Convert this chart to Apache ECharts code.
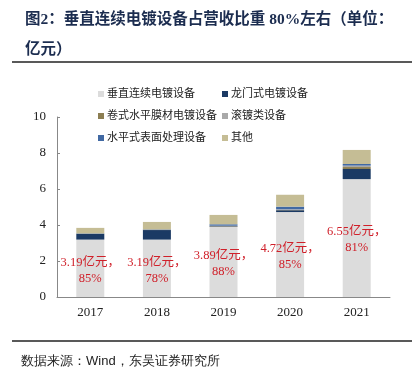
<!DOCTYPE html>
<html><head><meta charset="utf-8">
<script src="https://cdn.jsdelivr.net/npm/echarts@6/dist/echarts.min.js"></script>
<style>html,body{margin:0;padding:0;background:#fff;}#c{width:412px;height:379px;}</style>
</head><body><div id="c"></div>
<script>
const years = ['2017','2018','2019','2020','2021'];
const seriesNames = ['垂直连续电镀设备','龙门式电镀设备','卷式水平膜材电镀设备','滚镀类设备','水平式表面处理设备','其他'];
const vertical = [3.19, 3.19, 3.89, 4.72, 6.55];
const gantry   = [0.31, 0.53, 0.03, 0.10, 0.56];
const rollFilm = [0.02, 0.02, 0.02, 0.02, 0.11];
const barrel   = [0.00, 0.00, 0.02, 0.03, 0.08];
const horiz    = [0.02, 0.02, 0.08, 0.15, 0.09];
const others   = [0.30, 0.41, 0.52, 0.66, 0.78];
const sharePct = [85, 78, 88, 85, 81];
const yTicks = [0, 2, 4, 6, 8, 10];

const colors = ['#dcdcdc','#1b3a64','#8c7e52','#a9a9a9','#4169a3','#c5bd95'];
const serif = "'Liberation Serif','Times New Roman','Noto Sans CJK SC',serif";
const cjk = "'Liberation Serif','Noto Sans CJK SC',serif";

const allData = [vertical, gantry, rollFilm, barrel, horiz, others];
const chart = echarts.init(document.getElementById('c'));
const series = seriesNames.map((n, i) => ({
  name: n, type: 'bar', stack: 'a', barWidth: 28,
  data: allData[i],
  itemStyle: {color: colors[i]},
  label: i === 0 ? {
    show: true, position: 'inside', color: '#d0202a', fontSize: 12.5, lineHeight: 16,
    fontFamily: cjk, offset: [0, 2],
    formatter: p => p.value.toFixed(2) + '亿元，\n' + sharePct[p.dataIndex] + '%'
  } : {show: false}
}));

chart.setOption({
  animation: false,
  title: {
    text: '图2：垂直连续电镀设备占营收比重 80%左右（单位：\n亿元）',
    left: 20, top: 0,
    textStyle: {fontSize: 15.5, fontWeight: 'bold', color: '#1c2d50', lineHeight: 30, fontFamily: cjk}
  },
  legend: [
    {data: [seriesNames[0], seriesNames[2], seriesNames[4]], orient: 'vertical', left: 93, top: 83,
     itemWidth: 6, itemHeight: 6, itemGap: 10, icon: 'rect',
     textStyle: {fontSize: 11, color: '#222', lineHeight: 12, fontFamily: cjk, padding: [0,0,0,-2]}},
    {data: [seriesNames[1], seriesNames[3], seriesNames[5]], orient: 'vertical', left: 217, top: 83,
     itemWidth: 6, itemHeight: 6, itemGap: 10, icon: 'rect',
     textStyle: {fontSize: 11, color: '#222', lineHeight: 12, fontFamily: cjk, padding: [0,0,0,-2]}}
  ],
  grid: {left: 57, right: 22, top: 117, bottom: 82},
  xAxis: {
    type: 'category', data: years,
    axisLine: {lineStyle: {color: '#888', width: 1}},
    axisTick: {inside: true, length: 4, lineStyle: {color: '#888'}},
    axisLabel: {color: '#222', fontSize: 13, fontFamily: serif, margin: 9}
  },
  yAxis: {
    type: 'value', min: yTicks[0], max: yTicks[yTicks.length-1], interval: 2,
    axisLine: {show: true, lineStyle: {color: '#888', width: 1}},
    axisTick: {show: true, inside: true, length: 3, lineStyle: {color: '#888'}},
    splitLine: {show: false},
    axisLabel: {color: '#222', fontSize: 13, fontFamily: serif, margin: 11}
  },
  graphic: [
    {type: 'line', shape: {x1: 12, y1: 62, x2: 412, y2: 62}, style: {stroke: '#222', lineWidth: 1.5}},
    {type: 'line', shape: {x1: 12, y1: 341, x2: 412, y2: 341}, style: {stroke: '#222', lineWidth: 1.5}},
    {type: 'text', left: 21, top: 355, style: {text: '数据来源：Wind，东吴证券研究所', fontSize: 13, fill: '#222', font: "13px 'Liberation Serif','Noto Sans CJK SC',serif"}}
  ],
  series: series
});
</script></body></html>
